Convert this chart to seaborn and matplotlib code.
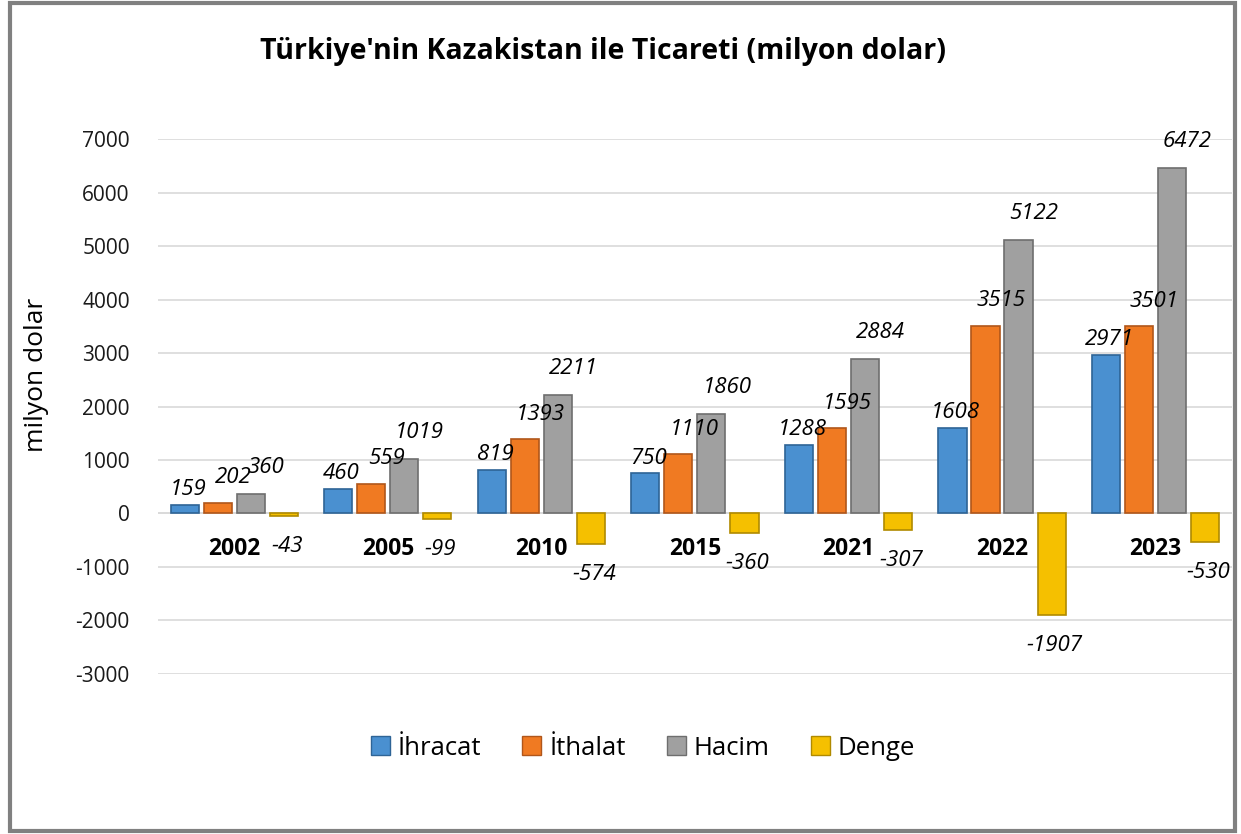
import matplotlib.pyplot as plt
import matplotlib.patches as mpatches
import seaborn as sns
import pandas as pd

years = ['2002', '2005', '2010', '2015', '2021', '2022', '2023']
ihracat = [159, 460, 819, 750, 1288, 1608, 2971]
ithalat = [202, 559, 1393, 1110, 1595, 3515, 3501]
hacim = [360, 1019, 2211, 1860, 2884, 5122, 6472]
denge = [-43, -99, -574, -360, -307, -1907, -530]
series = ['İhracat', 'İthalat', 'Hacim', 'Denge']
colors = ['#4A90D0', '#F07A22', '#A0A0A0', '#F5C000']
edges = ['#2E6496', '#B0561A', '#6E6E6E', '#B08A00']
# etiket kaydırmaları (x: kategori birimi, y: punto)
lab_dx = [0.02, 0.1, 0.1, 0.02]
lab_dy = [11, 18, 19, -22]

rows = []
for name, vals in zip(series, [ihracat, ithalat, hacim, denge]):
    for y, v in zip(years, vals):
        rows.append({'Yıl': y, 'Seri': name, 'Değer': v})
df = pd.DataFrame(rows)

sns.set_style('white')
plt.rcParams['font.family'] = ['Open Sans', 'DejaVu Sans']
plt.rcParams['axes.unicode_minus'] = False
plt.rcParams['text.color'] = 'black'
plt.rcParams['ytick.color'] = '#1a1a1a'

fig = plt.figure(figsize=(12.41, 8.34), dpi=100)
ax = fig.add_axes([0.127, 0.192, 0.866, 0.641])

sns.barplot(data=df, x='Yıl', y='Değer', hue='Seri', order=years, hue_order=series,
            palette=colors, width=0.86, gap=0.15, saturation=1, ax=ax, legend=False)

# kenar renkleri ve etiketler
for k, (cont, ec, vals) in enumerate(zip(ax.containers, edges, [ihracat, ithalat, hacim, denge])):
    for bar, v in zip(cont, vals):
        bar.set_edgecolor(ec)
        bar.set_linewidth(1.2)
        x = bar.get_x() + bar.get_width() / 2
        ax.annotate(str(v), (x + lab_dx[k], v), xytext=(0, lab_dy[k]), textcoords='offset points',
                    ha='center', va='center', fontsize=16, fontstyle='italic')

for i, y in enumerate(years):
    ax.text(i, -670, y, ha='center', va='center', fontsize=16.5, fontweight='bold')

ax.set_ylim(-3000, 7000)
ax.set_yticks(range(-3000, 7001, 1000))
ax.tick_params(axis='y', labelsize=15, length=0, pad=20)
ax.set_xticks([])
ax.set_xlabel('')
ax.set_ylabel('')
ax.grid(axis='y', color='#D9D9D9', linewidth=1.2)
ax.set_axisbelow(True)
ax.axhline(0, color='#D9D9D9', linewidth=1.2, zorder=0)
sns.despine(ax=ax, left=True, bottom=True)

fig.text(37 / 1241, 1 - 375 / 834, 'milyon dolar', rotation=90, ha='center', va='center', fontsize=19)

fig.text(0.486, 0.938, "Türkiye'nin Kazakistan ile Ticareti (milyon dolar)",
         ha='center', va='center', fontsize=20.5, fontweight='bold')

handles = [mpatches.Patch(facecolor=c, edgecolor=e, label=s) for c, e, s in zip(colors, edges, series)]
fig.legend(handles=handles, loc='center', bbox_to_anchor=(0.518, 0.103), ncol=4, frameon=False,
           fontsize=18.5, handlelength=0.75, handleheight=0.75, handletextpad=0.3, columnspacing=1.6)

fig.add_artist(mpatches.Rectangle((0.008, 0.003), 0.987, 0.994, transform=fig.transFigure,
                                  fill=False, edgecolor='#808080', linewidth=3))

fig.savefig('out.png', dpi=100)
